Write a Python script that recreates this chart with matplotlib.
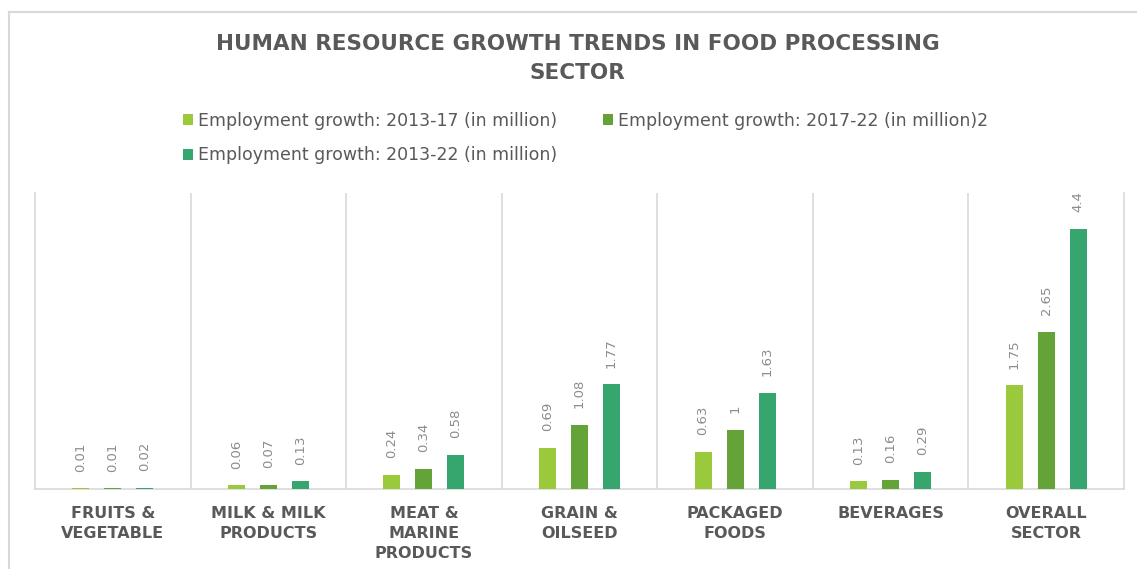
import numpy as np
import matplotlib
matplotlib.use('Agg')
import matplotlib.pyplot as plt
from matplotlib.lines import Line2D

# Chart data
categories = ['FRUITS &\nVEGETABLE', 'MILK & MILK\nPRODUCTS', 'MEAT &\nMARINE\nPRODUCTS',
              'GRAIN &\nOILSEED', 'PACKAGED\nFOODS', 'BEVERAGES', 'OVERALL\nSECTOR']
growth_2013_17 = [0.01, 0.06, 0.24, 0.69, 0.63, 0.13, 1.75]
growth_2017_22 = [0.01, 0.07, 0.34, 1.08, 1.00, 0.16, 2.65]
growth_2013_22 = [0.02, 0.13, 0.58, 1.77, 1.63, 0.29, 4.40]
series_names = ['Employment growth: 2013-17 (in million)',
                'Employment growth: 2017-22 (in million)2',
                'Employment growth: 2013-22 (in million)']
colors = ['#9ACA3C', '#63A337', '#36A66E']

plt.rcParams['font.family'] = ['DejaVu Sans']
text_grey = '#595959'

fig = plt.figure(figsize=(11.37, 5.69), dpi=100)
ax = fig.add_axes([35 / 1137, 80 / 569, 1089 / 1137, 296 / 569])

x = np.arange(len(categories))
offset = 0.206
width = 0.109
all_series = [growth_2013_17, growth_2017_22, growth_2013_22]

handles = []
for i, (vals, col, name) in enumerate(zip(all_series, colors, series_names)):
    bars = ax.bar(x + (i - 1) * offset, vals, width, color=col, label=name, zorder=3)
    handles.append(bars)
    labels = ['%g' % v for v in vals]
    ax.bar_label(bars, labels=labels, rotation=90, padding=12, fontsize=9.5,
                 color='#8C8C8C')

ax.set_xlim(-0.5, len(categories) - 0.5)
ax.set_ylim(0, 5)
ax.set_yticks([])
ax.set_xticks(x)
ax.set_xticklabels(categories, fontsize=11.5, fontweight='bold', color=text_grey,
                   linespacing=1.45)
ax.tick_params(axis='x', length=0, pad=12)

ax.spines['top'].set_visible(False)
for s in ['left', 'right', 'bottom']:
    ax.spines[s].set_color('#D9D9D9')
    ax.spines[s].set_linewidth(1.2)

# separators between categories
for b in np.arange(0.5, len(categories) - 1, 1.0):
    ax.axvline(b, color='#D9D9D9', linewidth=1.2, zorder=1)

fig.suptitle('HUMAN RESOURCE GROWTH TRENDS IN FOOD PROCESSING\nSECTOR',
             x=0.508, y=0.941, fontsize=15.5, fontweight='bold', color=text_grey,
             linespacing=1.6)

# legend: first two items on row one, third on row two
order = [0, 2, 1]
fig.legend([handles[k] for k in order], [series_names[k] for k in order],
           ncol=2, loc='upper center', bbox_to_anchor=(0.515, 0.831),
           frameon=False, fontsize=12.5, labelcolor=text_grey,
           handlelength=0.6, handleheight=0.6, handletextpad=0.3,
           columnspacing=2.6, labelspacing=0.95)

# outer chart frame (top and left edges visible)
fig.add_artist(Line2D([9 / 1137, 9 / 1137], [0, 1 - 12 / 569],
                      transform=fig.transFigure, color='#D9D9D9', linewidth=1.5))
fig.add_artist(Line2D([9 / 1137, 1], [1 - 12 / 569, 1 - 12 / 569],
                      transform=fig.transFigure, color='#D9D9D9', linewidth=1.5))

fig.savefig('out.png', dpi=100)
